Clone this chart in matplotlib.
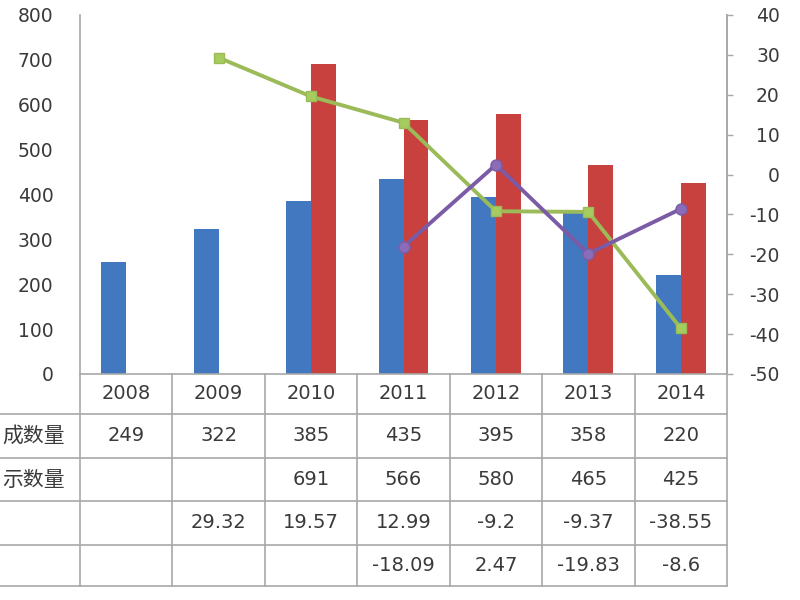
import matplotlib
matplotlib.use("Agg")
import matplotlib.pyplot as plt
import numpy as np

plt.rcParams["font.family"] = ["DejaVu Sans", "Noto Sans CJK SC"]
plt.rcParams["axes.unicode_minus"] = False

# =========================
# 数据
# =========================
years = ["2008", "2009", "2010", "2011", "2012", "2013", "2014"]
completed = [249, 322, 385, 435, 395, 358, 220]
published = [None, None, 691, 566, 580, 465, 425]
completed_growth = [None, 29.32, 19.57, 12.99, -9.2, -9.37, -38.55]
published_growth = [None, None, None, -18.09, 2.47, -19.83, -8.6]

# 原图左侧行标题被裁切，只保留可见部分
row_labels = ["成数量", "示数量", "", ""]

BLUE = "#4178C0"
RED = "#C8413E"
GREEN = "#9BBB59"
PURPLE = "#7B5BA6"
GRID = "#A8A8A8"
TEXT = "#3A3A3A"


def fmt(v):
    return "" if v is None else f"{v:g}"


fig = plt.figure(figsize=(8, 6), dpi=100)
ax = fig.add_axes([0.1, 0.3767, 0.8088, 0.5983])
x = np.arange(len(years))
w = 0.27

blue_h = [np.nan if v is None else v for v in completed]
red_h = [np.nan if v is None else v for v in published]
ax.bar(x - w / 2, blue_h, w, color=BLUE, zorder=2)
ax.bar(x + w / 2, red_h, w, color=RED, zorder=2)
ax.set_xlim(-0.5, len(years) - 0.5)
ax.set_ylim(0, 800)
ax.set_yticks(range(0, 801, 100))
ax.set_xticks([])
ax.tick_params(axis="y", length=0, pad=19, labelsize=13.5, labelcolor=TEXT)
ax.spines["top"].set_visible(False)
for s in ["left", "bottom", "right"]:
    ax.spines[s].set_color(GRID)
    ax.spines[s].set_linewidth(1.2)

ax2 = ax.twinx()
ax2.set_ylim(-50, 40)
ax2.set_yticks(range(-50, 41, 10))
ax2.tick_params(axis="y", length=4, width=1, color=GRID, pad=34, labelsize=13.5, labelcolor=TEXT)
for lab in ax2.get_yticklabels():
    lab.set_horizontalalignment("right")
ax2.spines["top"].set_visible(False)
ax2.spines["right"].set_color(GRID)
ax2.spines["right"].set_linewidth(1.2)
ax2.spines["left"].set_visible(False)
ax2.spines["bottom"].set_visible(False)

gx = [i for i, v in enumerate(completed_growth) if v is not None]
gy = [v for v in completed_growth if v is not None]
ax2.plot(gx, gy, color=GREEN, lw=2.8, marker="s", ms=7, mfc="#A6CC5E", mec=GREEN, zorder=3)
px = [i for i, v in enumerate(published_growth) if v is not None]
py = [v for v in published_growth if v is not None]
ax2.plot(px, py, color=PURPLE, lw=2.8, marker="o", ms=8, mfc="#8A6CB8", mec=PURPLE, zorder=3)

# =========================
# 底部数据表
# =========================
tr = ax.get_xaxis_transform()
row_edges = [0, -0.111, -0.234, -0.354, -0.476, -0.591]
label_left = -1.5
n = len(years)

for yv in row_edges[1:]:
    ax.plot([label_left, n - 0.5], [yv, yv], transform=tr, color=GRID, lw=1.2, clip_on=False)
for k in range(n + 1):
    ax.plot([k - 0.5, k - 0.5], [row_edges[0], row_edges[-1]], transform=tr,
            color=GRID, lw=1.2, clip_on=False)

rows = [years, [fmt(v) for v in completed], [fmt(v) for v in published],
        [fmt(v) for v in completed_growth], [fmt(v) for v in published_growth]]
for r, vals in enumerate(rows):
    yc = (row_edges[r] + row_edges[r + 1]) / 2
    for c, s in enumerate(vals):
        ax.text(c, yc, s, transform=tr, ha="center", va="center", fontsize=14,
                color=TEXT, clip_on=False)
    if r >= 1:
        ax.text(-0.5 - 0.16, yc, row_labels[r - 1], transform=tr, ha="right", va="center",
                fontsize=15, color=TEXT, family=["Noto Sans CJK SC", "DejaVu Sans"], clip_on=False)

fig.savefig("out.png", dpi=100, facecolor="white")
